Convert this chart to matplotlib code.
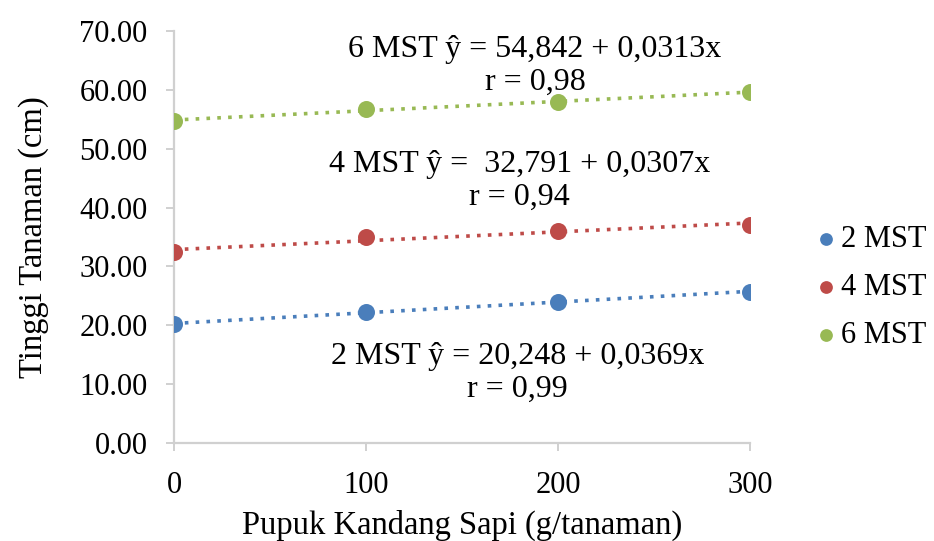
import matplotlib

matplotlib.use("Agg")
import matplotlib.pyplot as plt  # noqa: E402
import numpy as np  # noqa: E402

plt.rcParams["font.family"] = ["Liberation Serif", "DejaVu Serif"]

# data
dosis = [0, 100, 200, 300]
mst2 = [20.2, 22.3, 24.0, 25.7]
mst4 = [32.4, 35.0, 36.0, 37.1]
mst6 = [54.7, 56.8, 57.9, 59.6]

series = [
    ("2 MST", mst2, "#4a7ebb"),
    ("4 MST", mst4, "#be4b48"),
    ("6 MST", mst6, "#98b954"),
]

labels = [
    (188, 64.1, "6 MST ŷ = 54,842 + 0,0313x\nr = 0,98"),
    (180, 44.6, "4 MST ŷ =  32,791 + 0,0307x\nr = 0,94"),
    (179, 11.9, "2 MST ŷ = 20,248 + 0,0369x\nr = 0,99"),
]

fig = plt.figure(figsize=(9.34, 5.41), dpi=100)
ax = fig.add_axes([0.1863, 0.181, 0.6167, 0.7617])

x = np.array(dosis, dtype=float)
for name, vals, col in series:
    ax.scatter(x, vals, s=150, color=col, zorder=3, label=name, linewidths=0)
    # linear trendline
    b, a = np.polyfit(x, vals, 1)
    ax.plot(x[[0, -1]], a + b * x[[0, -1]], linestyle=(0, (1, 2.0)),
            color=col, linewidth=2.6, zorder=2)

for tx, ty, txt in labels:
    ax.text(tx, ty, txt, ha="center", va="center", fontsize=23,
            linespacing=1.18)

ax.set_xlim(0, 300)
ax.set_ylim(0, 70)
ax.set_xticks(dosis)
ax.set_yticks(np.arange(0, 71, 10))
ax.set_yticklabels([f"{v:.2f}" for v in np.arange(0, 71, 10)])
ax.tick_params(labelsize=22, color="#d0d0d0", length=6, width=1.4)
ax.tick_params(axis="x", pad=14)
ax.tick_params(axis="y", pad=13)
for s in ["top", "right"]:
    ax.spines[s].set_visible(False)
for s in ["left", "bottom"]:
    ax.spines[s].set_color("#d0d0d0")
    ax.spines[s].set_linewidth(1.6)

ax.set_xlabel("Pupuk Kandang Sapi (g/tanaman)", fontsize=23.5, labelpad=7)
ax.set_ylabel("Tinggi Tanaman (cm)", fontsize=23.5, labelpad=22)

fig.legend(loc="center left", bbox_to_anchor=(0.855, 0.468), frameon=False,
           fontsize=22, handletextpad=0.0, labelspacing=0.62, markerscale=0.75,
           handlelength=1.0, borderaxespad=0)

fig.savefig("out.png", dpi=100)
